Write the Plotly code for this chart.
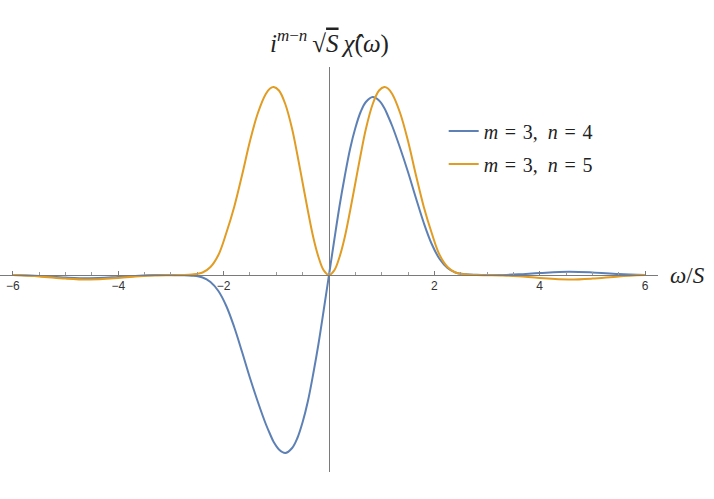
import plotly.graph_objects as go

# omega / S sample positions
omega = [-6.0, -5.5, -5.0, -4.55, -4.0, -3.6, -3.3, -3.0, -2.8, -2.6, -2.4, -2.25, -2.1, -1.95,
         -1.8, -1.65, -1.5, -1.35, -1.2, -1.12, -1.05, -0.95, -0.83, -0.7, -0.6, -0.5, -0.4,
         -0.3, -0.2, -0.1, 0.0, 0.1, 0.2, 0.3, 0.4, 0.5, 0.6, 0.7, 0.83, 0.95, 1.05, 1.12,
         1.2, 1.35, 1.5, 1.65, 1.8, 1.95, 2.1, 2.25, 2.4, 2.6, 2.8, 3.0, 3.3, 3.6, 4.0, 4.55,
         5.0, 5.5, 6.0]

# m = 3, n = 4 (blue), arbitrary units
blue = [-0.1, -1.0, -2.6, -3.3, -2.0, -0.7, -0.1, 0.0, -0.2, -0.7, -2.5, -7.0, -16.0, -31.0,
        -52.0, -77.0, -103.0, -127.0, -149.0, -159.0, -167.0, -174.5, -178.0, -173.0, -163.0,
        -147.0, -126.0, -99.0, -69.0, -35.0, 0.0, 35.0, 69.0, 99.0, 126.0, 147.0, 163.0,
        173.0, 178.0, 174.5, 167.0, 159.0, 149.0, 127.0, 103.0, 77.0, 52.0, 31.0, 16.0, 7.0,
        2.5, 0.7, 0.2, 0.0, 0.1, 0.7, 2.0, 3.3, 2.6, 1.0, 0.1]

# m = 3, n = 5 (orange)
orange = [-0.1, -1.4, -3.6, -4.5, -3.0, -1.3, -0.5, -0.2, 0.0, 0.5, 2.5, 8.0, 20.0, 42.0,
          68.0, 100.0, 134.0, 162.0, 181.0, 186.5, 188.0, 184.5, 171.0, 146.0, 120.0, 92.0,
          64.0, 38.0, 18.0, 4.6, 0.0, 4.6, 18.0, 38.0, 64.0, 92.0, 120.0, 146.0, 171.0, 184.5,
          188.0, 186.5, 181.0, 162.0, 134.0, 100.0, 68.0, 42.0, 20.0, 8.0, 2.5, 0.5, 0.0, -0.2,
          -0.5, -1.3, -3.0, -4.5, -3.6, -1.4, -0.1]

tick_vals = [-6, -4, -2, 2, 4, 6]
tick_text = ["\u22126", "\u22124", "\u22122", "2", "4", "6"]

BLUE = "#5E81B5"
ORANGE = "#E19C24"
SERIF = "Liberation Serif"
SP = "\u2004"

fig = go.Figure()
fig.add_trace(go.Scatter(x=omega, y=blue, mode="lines",
                         line=dict(color=BLUE, width=2, shape="spline", smoothing=1.0),
                         name=f"<i>m</i>{SP}={SP}3,  <i>n</i>{SP}={SP}4", legendgroup="a"))
fig.add_trace(go.Scatter(x=omega, y=orange, mode="lines",
                         line=dict(color=ORANGE, width=2, shape="spline", smoothing=1.0),
                         name=f"<i>m</i>{SP}={SP}3,  <i>n</i>{SP}={SP}5", legendgroup="b"))

y_lo, y_hi = -197, 208
x_axis_pos = (0 - y_lo) / (y_hi - y_lo)

title_text = ("<i>i</i><sup><span style='font-size:17px'><i>m</i>\u2212<i>n</i></span></sup>"
              "\u2009\u221a<span style='text-decoration:overline'><i>S</i></span>\u2009"
              "<i>\u03c7\u0302</i>(<i>\u03c9</i>)")

fig.update_layout(
    width=714, height=499,
    margin=dict(l=0, r=56, t=67, b=27),
    paper_bgcolor="white", plot_bgcolor="white",
    showlegend=True,
    legend=dict(x=0.6743, y=0.890, xanchor="left", yanchor="top",
                font=dict(family=SERIF, size=20, color="#222"),
                bgcolor="rgba(0,0,0,0)", tracegroupgap=4),
    xaxis=dict(range=[-6.246, 6.246], anchor="free", position=x_axis_pos,
               showline=True, linecolor="#7a7a7a", linewidth=1,
               showgrid=False, zeroline=True, zerolinecolor="#7a7a7a", zerolinewidth=1,
               tickmode="array", tickvals=tick_vals, ticktext=tick_text,
               ticks="inside", ticklen=4, tickcolor="#7a7a7a", tickwidth=1,
               ticklabeloverflow="allow",
               tickfont=dict(family="Liberation Sans", size=12, color="#333"),
               minor=dict(ticks="inside", dtick=0.5, tick0=0, ticklen=3,
                          tickcolor="#9a9a9a", tickwidth=1, showgrid=False)),
    yaxis=dict(range=[y_lo, y_hi], showline=False, showgrid=False, zeroline=False,
               showticklabels=False, ticks=""),
    annotations=[
        dict(xref="x", yref="paper", x=0, y=1.062, xanchor="center", yanchor="middle",
             showarrow=False, text=title_text,
             font=dict(family=SERIF, size=25, color="#222")),
        dict(xref="paper", yref="paper", x=1.0, y=x_axis_pos, xanchor="left", yanchor="middle",
             xshift=10, showarrow=False,
             text="<i>\u03c9</i>/<i>S</i>",
             font=dict(family=SERIF, size=23, color="#222")),
    ],
)

fig.write_html("out.html", config={"displayModeBar": False},
               post_script="document.body.style.margin='0';")
